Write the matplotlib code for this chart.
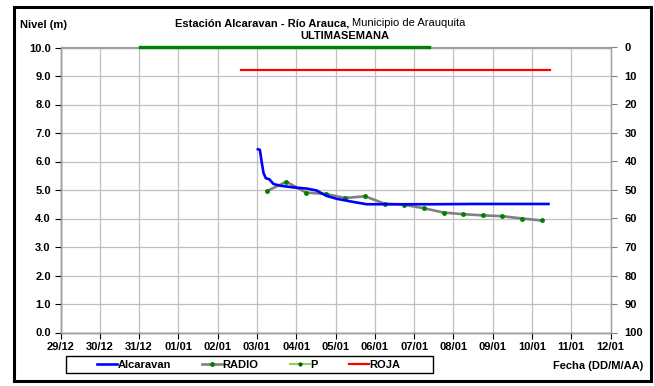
import pandas as pd
import matplotlib
matplotlib.use("Agg")
import matplotlib.pyplot as plt
import matplotlib.dates as mdates
from matplotlib.lines import Line2D
from matplotlib.patches import Rectangle

plt.rcParams['font.family'] = ['Liberation Sans', 'DejaVu Sans']

# --- data ---
alcaravan_time = ["2012-01-03 00:36", "2012-01-03 01:48", "2012-01-03 03:01", "2012-01-03 04:03",
                  "2012-01-03 05:28", "2012-01-03 07:30", "2012-01-03 10:09", "2012-01-03 14:14",
                  "2012-01-03 22:22", "2012-01-04 06:32", "2012-01-04 12:37", "2012-01-04 14:40",
                  "2012-01-04 18:43", "2012-01-05 00:50", "2012-01-05 11:01", "2012-01-05 19:09",
                  "2012-01-06 12:00", "2012-01-07 12:00", "2012-01-08 12:00", "2012-01-09 12:00",
                  "2012-01-10 10:05"]
alcaravan_level = [6.43, 6.41, 5.94, 5.59, 5.41, 5.38, 5.21, 5.15,
                   5.09, 5.05, 4.98, 4.91, 4.79, 4.69, 4.58, 4.50,
                   4.50, 4.50, 4.51, 4.51, 4.51]

radio_time = ["2012-01-03 06:00", "2012-01-03 18:00", "2012-01-04 06:00", "2012-01-04 18:00",
              "2012-01-05 06:00", "2012-01-05 18:00", "2012-01-06 06:00", "2012-01-06 18:00",
              "2012-01-07 06:00", "2012-01-07 18:00", "2012-01-08 06:00", "2012-01-08 18:00",
              "2012-01-09 06:00", "2012-01-09 18:00", "2012-01-10 06:00"]
radio_level = [4.96, 5.29, 4.91, 4.86, 4.72, 4.78, 4.52, 4.48,
               4.36, 4.21, 4.15, 4.11, 4.08, 4.00, 3.93]

p_time = ["2011-12-31 00:30", "2012-01-01 00:00", "2012-01-02 00:00", "2012-01-03 00:00",
          "2012-01-04 00:00", "2012-01-05 00:00", "2012-01-06 00:00", "2012-01-07 09:20"]
p_value = [0, 0, 0, 0, 0, 0, 0, 0]

roja_time = ["2012-01-02 14:24", "2012-01-10 11:00"]
roja_level = [9.2, 9.2]

x_ticks = pd.date_range("2011-12-29", "2012-01-12", freq="D")


fig = plt.figure(figsize=(6.54, 3.86), dpi=100)
ax = fig.add_axes([60.5 / 654, 1 - 332.5 / 386, 550 / 654, 285 / 386])
ax2 = ax.twinx()

# outer frame
fig.patches.append(Rectangle((13.5 / 654, 1 - 381 / 386), 637 / 654, 374 / 386,
                             transform=fig.transFigure, fill=False,
                             edgecolor='black', linewidth=2.2))

ax.plot(pd.to_datetime(alcaravan_time), alcaravan_level, color='#0000ff', lw=1.9,
        label='Alcaravan', zorder=4)
ax.plot(pd.to_datetime(radio_time), radio_level, color='#808080', lw=1.9,
        marker='o', ms=2.5, mfc='#008000', mec='#008000', label='RADIO', zorder=3)
ax.plot(pd.to_datetime(roja_time), roja_level, color='#ff0000', lw=1.6, label='ROJA')
ax2.plot(pd.to_datetime(p_time), p_value, color='#008000', lw=2.4, clip_on=False, zorder=5)

ax.set_xlim(x_ticks[0], x_ticks[-1])
ax.set_ylim(0, 10)
ax.set_yticks([i for i in range(11)])
ax.set_yticklabels([f"{i:.1f}" for i in range(11)])
ax.set_xticks(x_ticks)
ax.xaxis.set_major_formatter(mdates.DateFormatter('%d/%m'))
ax2.set_ylim(100, 0)
ax2.set_yticks(range(0, 101, 10))

ax.grid(True, color='#c0c0c0', lw=0.9)
ax.set_axisbelow(True)
for a in (ax, ax2):
    for s in a.spines.values():
        s.set_color('#a0a0a0')
        s.set_linewidth(0.9)
ax.spines['left'].set_color('black')
ax.spines['bottom'].set_color('black')
ax.tick_params(axis='both', length=4, width=0.8, labelsize=8, pad=3)
ax2.tick_params(axis='y', length=4, width=0.8, color='#808080', labelsize=8, pad=6)
for lab in ax.get_xticklabels() + ax.get_yticklabels() + ax2.get_yticklabels():
    lab.set_fontweight('bold')

# titles
fig.text(20 / 654, 1 - 24.5 / 386, "Nivel (m)", fontsize=8, fontweight='bold', va='center')
t1 = fig.text(175 / 654, 1 - 23 / 386, "Estación Alcaravan - Río Arauca,", fontsize=8,
              fontweight='bold', va='center', ha='left')
fig.canvas.draw()
bb = t1.get_window_extent()
fig.text((bb.x1 + 3) / 654, 1 - 23 / 386, "Municipio de Arauquita", fontsize=8,
         va='center', ha='left')
fig.text(345 / 654, 1 - 36 / 386, "ULTIMASEMANA", fontsize=8, fontweight='bold',
         va='center', ha='center')
fig.text(643 / 654, 1 - 366 / 386, "Fecha (DD/M/AA)", fontsize=8, fontweight='bold',
         va='center', ha='right')

# legend: entries without frame, box drawn separately
handles = [
    Line2D([], [], color='#0000ff', lw=1.9),
    Line2D([], [], color='#808080', lw=1.9, marker='o', ms=2.5, mfc='#008000', mec='#008000'),
    Line2D([], [], color='#92d050', lw=1.5, marker='o', ms=2, mfc='#006000', mec='#006000'),
    Line2D([], [], color='#ff0000', lw=1.6),
]
fig.legend(handles, ['Alcaravan', 'RADIO', 'P', 'ROJA'], ncol=4,
           loc='center left', bbox_to_anchor=(97 / 654, 1 - 364.5 / 386),
           prop={'weight': 'bold', 'size': 8}, frameon=False,
           handlelength=1.8, handletextpad=0.05, numpoints=1,
           columnspacing=2.8, borderpad=0, borderaxespad=0)
fig.patches.append(Rectangle((66 / 654, 1 - 373 / 386), 367 / 654, 17 / 386,
                             transform=fig.transFigure, fill=False,
                             edgecolor='black', linewidth=1.0))

fig.savefig("out.png", dpi=100)
